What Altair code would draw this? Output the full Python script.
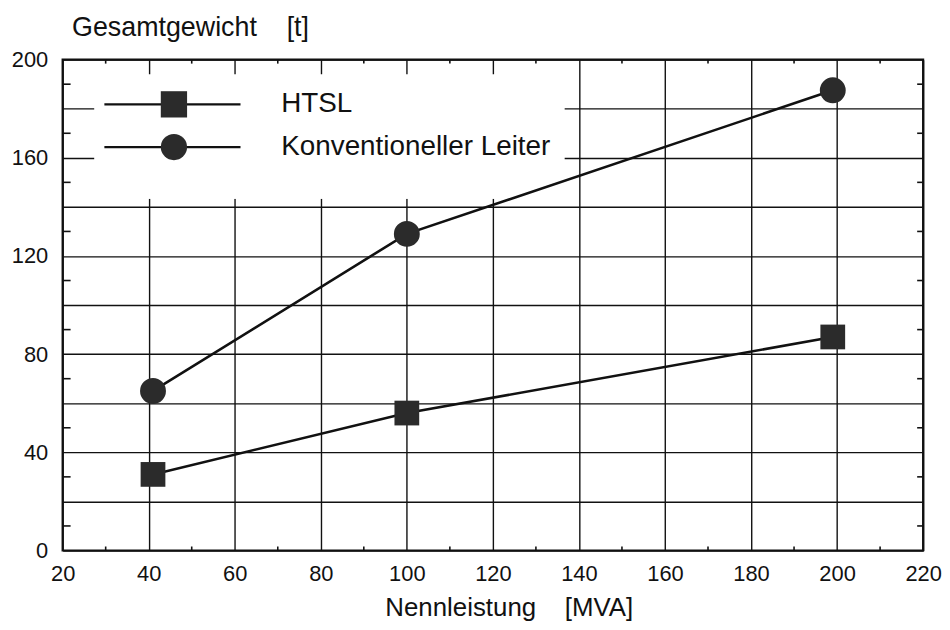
import altair as alt
import pandas as pd

# ---- data ----
leistung = [41, 100, 199]                 # Nennleistung [MVA]
htsl = [31, 56, 87]                       # HTSL Gesamtgewicht [t]
konventionell = [65, 129, 187.5]          # Konventioneller Leiter [t]
series_names = ["HTSL", "Konventioneller Leiter"]

x_ticks = [20, 40, 60, 80, 100, 120, 140, 160, 180, 200, 220]
y_grid = [0, 20, 40, 60, 80, 100, 120, 140, 160, 180, 200]
x_minor = [30, 50, 70, 90, 110, 130, 150, 170, 190, 210]
y_minor = [10, 30, 50, 70, 90, 110, 130, 150, 170, 190]

FONT = "Liberation Sans"
INK = "#111111"
MARK_FILL = "#2b2b2b"
W, H = 866, 494

df = pd.DataFrame({
    "x": leistung * 2,
    "y": htsl + konventionell,
    "serie": [series_names[0]] * 3 + [series_names[1]] * 3,
})

xscale = alt.Scale(domain=[20, 220], nice=False, zero=False)
yscale = alt.Scale(domain=[0, 200], nice=False, zero=False)

xaxis = alt.Axis(
    values=x_ticks, grid=True, gridColor=INK, gridWidth=1.4, gridOpacity=1,
    ticks=False, domain=False, labelFontSize=22, labelFont=FONT, labelColor=INK,
    labelPadding=13, labelFlush=False,
    title="Nennleistung\u00a0\u00a0\u00a0\u00a0[MVA]", titleFont=FONT, titleFontSize=26,
    titleFontWeight="normal", titleColor=INK, titleX=449, titleY=57,
    titleAlign="center", titleBaseline="middle",
)
yaxis = alt.Axis(
    values=y_grid, grid=True, gridColor=INK, gridWidth=1.4, gridOpacity=1,
    ticks=False, domain=False, labelFontSize=22, labelFont=FONT, labelColor=INK,
    labelPadding=15, labelFlush=False,
    labelExpr="datum.value % 40 == 0 ? datum.label : ''",
    title="Gesamtgewicht\u00a0\u00a0\u00a0\u00a0[t]", titleFont=FONT, titleFontSize=27,
    titleFontWeight="normal", titleColor=INK, titleAngle=0, titleAlign="left",
    titleBaseline="middle", titleX=9, titleY=-32,
)

base = alt.Chart(df)

# legend box (white, hides the grid only)
leg = alt.Chart(pd.DataFrame({"label": series_names}))
legend_bg = leg.mark_rect(color="white").encode(
    x=alt.value(32), x2=alt.value(505), y=alt.value(15), y2=alt.value(140))

lines = base.mark_line(color=INK, strokeWidth=2.6).encode(
    x=alt.X("x:Q", scale=xscale, axis=xaxis),
    y=alt.Y("y:Q", scale=yscale, axis=yaxis),
    detail="serie:N",
)

squares = base.transform_filter(alt.datum.serie == series_names[0]).mark_point(
    shape="square", filled=True, fill=MARK_FILL, stroke=None, size=620, opacity=1
).encode(x="x:Q", y="y:Q")

circles = base.transform_filter(alt.datum.serie == series_names[1]).mark_point(
    shape="circle", filled=True, fill=MARK_FILL, stroke=None, size=680, opacity=1
).encode(x="x:Q", y="y:Q")

# minor ticks on the frame
xm = alt.Chart(pd.DataFrame({"v": x_minor}))
ym = alt.Chart(pd.DataFrame({"v": y_minor}))
tick_bottom = xm.mark_rule(color=INK, strokeWidth=1.6).encode(
    x="v:Q", y=alt.value(H), y2=alt.value(H - 4))
tick_top = xm.mark_rule(color=INK, strokeWidth=1.6).encode(
    x="v:Q", y=alt.value(0), y2=alt.value(4))
tick_left = ym.mark_rule(color=INK, strokeWidth=1.6).encode(
    y="v:Q", x=alt.value(0), x2=alt.value(8))
tick_right = ym.mark_rule(color=INK, strokeWidth=1.6).encode(
    y="v:Q", x=alt.value(W), x2=alt.value(W - 6))

legend_parts = []
for i, name in enumerate(series_names):
    yy = 45 + i * 43
    one = leg.transform_filter(alt.datum.label == name)
    legend_parts.append(one.mark_rule(color=INK, strokeWidth=2.2).encode(
        x=alt.value(42), x2=alt.value(179), y=alt.value(yy)))
    legend_parts.append(one.mark_point(
        shape="square" if i == 0 else "circle", filled=True, fill=MARK_FILL,
        stroke=None, size=700, opacity=1).encode(x=alt.value(112), y=alt.value(yy)))
    legend_parts.append(one.mark_text(
        align="left", baseline="middle", font=FONT, fontSize=28, color=INK).encode(
        x=alt.value(220), y=alt.value(yy), text="label:N"))

chart = alt.layer(
    legend_bg, lines, tick_bottom, tick_top, tick_left, tick_right,
    *legend_parts, squares, circles,
).properties(
    width=W, height=H,
    autosize=alt.AutoSizeParams(type="none"),
    padding={"left": 55, "top": 50, "right": 19, "bottom": 70},
    background="white",
).configure_view(stroke=INK, strokeWidth=2.2)

chart.save("out.html", embed_options={"renderer": "svg", "actions": False})
